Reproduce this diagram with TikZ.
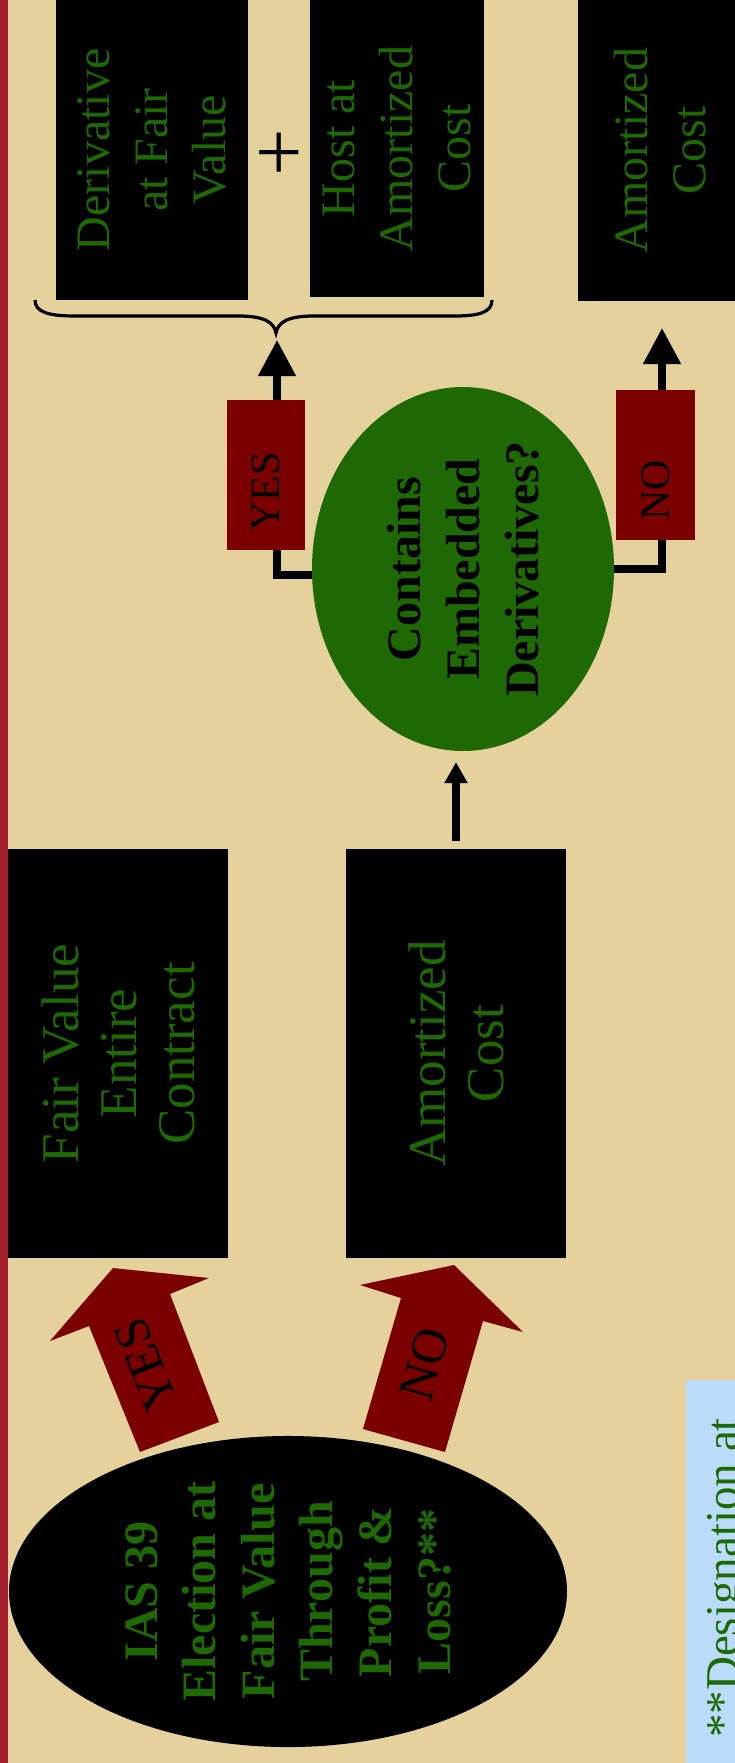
\documentclass[tikz,border=0pt]{standalone}
\usepackage{fontspec}
\setmainfont{Liberation Serif}
\usetikzlibrary{shapes.geometric,arrows.meta,calc}
\definecolor{bgbeige}{RGB}{228,209,156}
\definecolor{stripe}{RGB}{160,28,40}
\definecolor{dred}{RGB}{123,0,0}
\definecolor{dgreen}{RGB}{30,105,3}
\definecolor{noteblue}{RGB}{186,220,250}
\tikzset{
  blackbox/.style={rectangle, fill=black, text=dgreen, rotate=90, inner sep=0pt, align=center},
  toptext/.style={font=\fontsize{48}{58}\selectfont},
  lowtext/.style={font=\fontsize{53}{58}\selectfont},
  tagbox/.style={rectangle, fill=dred, text=black, rotate=90, inner sep=0pt, minimum width=150pt, font=\fontsize{42}{50}\selectfont},
  conn/.style={line width=7.5pt, line join=miter, -{Triangle[width=36pt,length=36pt]}},
  smallconn/.style={line width=8pt, -{Triangle[width=22pt,length=21pt]}},
  fatarrow/.style={fill=dred},
  fattext/.style={text=black, font=\fontsize{50}{60}\selectfont, inner sep=0pt},
}
\begin{document}
\begin{tikzpicture}[x=1pt,y=-1pt]
\useasboundingbox (0,0) rectangle (735,1763);
\clip (0,0) rectangle (735,1763);
\fill[bgbeige] (0,0) rectangle (735,1763);
\fill[stripe] (0,0) rectangle (8,1763);

% top boxes
\node[blackbox, toptext, minimum width=300pt, minimum height=192pt] (derfv) at (152,150) {Derivative\\at Fair\\Value};
\node[font=\fontsize{84}{90}\selectfont, inner sep=0pt] (plus) at (279,157) {+};
\node[blackbox, toptext, minimum width=297pt, minimum height=174pt] (hostac) at (397,148.5) {Host at\\Amortized\\Cost};
\node[blackbox, toptext, minimum width=301pt, minimum height=164pt] (ac1) at (660,150.5) {Amortized\\Cost};

% brace
\draw[line width=3.2pt] (35,300) .. controls (35,312) and (48,316) .. (75,316) -- (238,316) .. controls (264,316) and (274,322) .. (276,333) .. controls (278,322) and (288,316) .. (314,316) -- (455,316) .. controls (480,316) and (492,312) .. (492,300);
\coordinate (yestip) at (277,340);
\coordinate (notip) at (662,328);

% lower boxes
\node[blackbox, lowtext, minimum width=409pt, minimum height=220pt] (fvec) at (118,1053.5) {Fair Value\\Entire\\Contract};
\node[blackbox, lowtext, minimum width=409pt, minimum height=220pt] (ac2) at (456,1053.5) {Amortized\\Cost};

% ellipses
\node[ellipse, fill=dgreen, rotate=90, minimum width=364pt, minimum height=302pt, inner sep=0pt, align=center, text=black, font=\bfseries\fontsize{48}{59}\selectfont] (green) at (463,569) {Contains\\Embedded\\Derivatives?};
\node[ellipse, fill=black, rotate=90, minimum width=310pt, minimum height=558pt, inner sep=0pt, align=center, text=dgreen, font=\bfseries\fontsize{48}{58.6}\selectfont] (ias) at (288,1591.5) {IAS 39\\Election at\\Fair Value\\Through\\Profit \&\\Loss?**};

% connectors
\draw[conn] ($(green.north)+(0,6)$) -| (yestip);
\draw[conn] (green.south) -| (notip);
\draw[smallconn, shorten <=8pt, shorten >=11pt] (ac2.east) -- (ac2.east |- green.west);

% tags
\node[tagbox, minimum height=78pt] (yestag) at (266,475) {YES\hspace*{34pt}};
\node[tagbox, minimum height=79pt] (notag) at (655.5,465) {NO\hspace*{50pt}};

% fat arrows
\fill[fatarrow] (140,1452) -- (219,1422) -- (170,1294) -- (209,1278) -- (113,1268) -- (50,1341) -- (89,1326) -- cycle;
\node[fattext, rotate=112] (yesarrowtext) at (146,1365) {YES};
\fill[fatarrow] (363,1429) -- (445,1452) -- (483,1321) -- (523,1332) -- (454,1265) -- (360,1285) -- (401,1298) -- cycle;
\node[fattext, rotate=74] (noarrowtext) at (425,1364) {NO};

% note
\fill[noteblue] (686,1380) rectangle (745,1770);
\node[rotate=90, anchor=base west, inner sep=0pt, text=dgreen, font=\fontsize{47}{56}\selectfont] (note) at (738,1738) {**Designation at};
\end{tikzpicture}
\end{document}
